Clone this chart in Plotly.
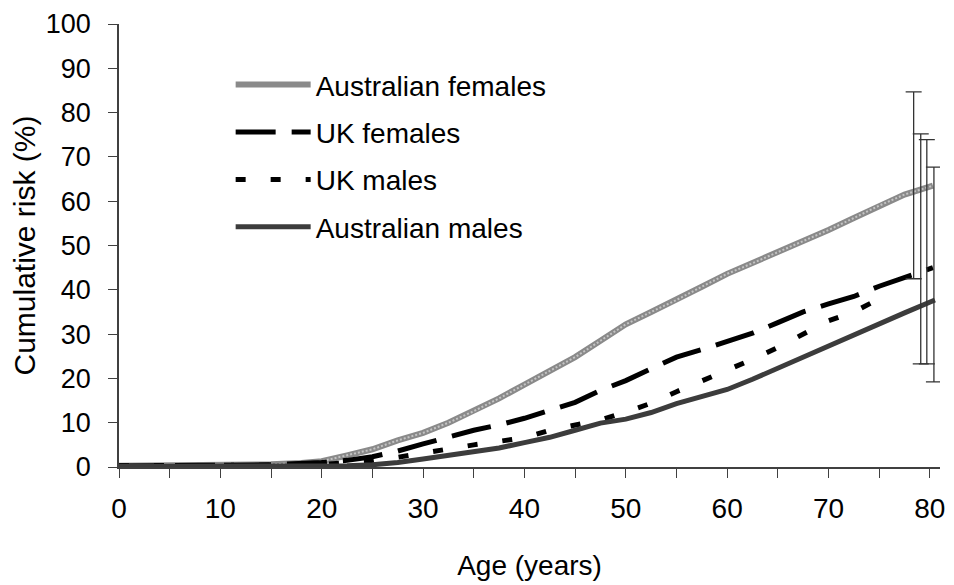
import plotly.graph_objects as go

# ---- data ----
af_age = [0, 5, 10, 15, 18, 20, 22.5, 25, 27.5, 30, 32.5, 35, 37.5, 40, 42.5, 45, 47.5, 50,
          52.5, 55, 57.5, 60, 62.5, 65, 67.5, 70, 72.5, 75, 77.5, 80.3]
af_val = [0.3, 0.3, 0.4, 0.6, 0.9, 1.3, 2.6, 4.0, 6.0, 7.7, 10.0, 12.6, 15.5, 18.6, 21.6, 24.8,
          28.5, 32.2, 35.0, 37.7, 40.7, 43.6, 46.0, 48.5, 51.0, 53.5, 56.2, 59.0, 61.5, 63.5]

ukf_age = [0, 10, 15, 20, 22.5, 25, 27.5, 30, 32.5, 35, 37.5, 40, 42.5, 45, 47.5, 50, 52.5, 55,
           57.5, 60, 62.5, 65, 67.5, 70, 72.5, 75, 77.5, 80.3]
ukf_val = [0.2, 0.3, 0.5, 1.0, 1.5, 2.3, 3.6, 5.2, 6.8, 8.3, 9.5, 11.0, 12.8, 14.6, 17.3, 19.5,
           22.2, 24.8, 26.5, 28.5, 30.2, 32.6, 35.0, 36.8, 38.5, 40.8, 42.8, 45.0]

ukm_age = [0, 10, 15, 20, 22.5, 25, 27.5, 30, 32.5, 35, 37.5, 40, 42.5, 45, 47.5, 50, 52.5, 55,
           57.5, 60, 62.5, 65, 67.5, 70, 72.5, 75.7]
ukm_val = [0.3, 0.3, 0.4, 0.6, 0.9, 1.3, 2.2, 3.2, 4.0, 5.0, 5.8, 6.6, 8.3, 9.4, 10.6, 12.4,
           14.4, 17.0, 19.4, 21.7, 24.3, 27.0, 30.0, 33.0, 35.0, 38.8]

am_age = [0, 10, 15, 20, 22.5, 25, 27.5, 30, 32.5, 35, 37.5, 40, 42.5, 45, 47.5, 50, 52.5, 55,
          57.5, 60, 62.5, 65, 67.5, 70, 72.5, 75, 77.5, 80.5]
am_val = [0.1, 0.1, 0.2, 0.3, 0.3, 0.5, 1.0, 1.8, 2.6, 3.4, 4.3, 5.5, 6.7, 8.3, 9.9, 10.8,
          12.3, 14.3, 15.8, 17.5, 19.8, 22.3, 25.0, 27.6, 30.0, 32.5, 34.8, 37.7]

# error bars near age 80 (slightly offset), lower / upper limits
eb_age = [78.4, 79.1, 79.7, 80.4]
eb_low = [42.5, 23.3, 23.3, 19.2]
eb_high = [84.7, 75.2, 73.9, 67.7]

x_ticks = [0, 10, 20, 30, 40, 50, 60, 70, 80]
y_ticks = [0, 10, 20, 30, 40, 50, 60, 70, 80, 90, 100]

FONT = "Liberation Sans, Arial, sans-serif"

fig = go.Figure()
fig.add_trace(go.Scatter(x=af_age, y=af_val, mode="lines", name="Australian females",
                         legendgroup="a", line=dict(color="#8a8a8a", width=6)))
# stipple overlay giving the hatched look of the grey line
fig.add_trace(go.Scatter(x=af_age, y=af_val, mode="lines", showlegend=False,
                         legendgroup="a", hoverinfo="skip",
                         line=dict(color="#c4c4c4", width=2, dash="2px,2px")))
fig.add_trace(go.Scatter(x=ukf_age, y=ukf_val, mode="lines", name="UK females",
                         legendgroup="b", line=dict(color="black", width=5, dash="40px,16px")))
fig.add_trace(go.Scatter(x=ukm_age, y=ukm_val, mode="lines", name="UK males",
                         legendgroup="c", line=dict(color="black", width=5, dash="10px,25px")))
fig.add_trace(go.Scatter(x=am_age, y=am_val, mode="lines", name="Australian males",
                         legendgroup="d", line=dict(color="#3c3c3c", width=5)))

eb_mid = [(l + h) / 2 for l, h in zip(eb_low, eb_high)]
eb_half = [(h - l) / 2 for l, h in zip(eb_low, eb_high)]
fig.add_trace(go.Scatter(x=eb_age, y=eb_mid, mode="markers", showlegend=False,
                         marker=dict(size=1, color="rgba(0,0,0,0)"),
                         error_y=dict(type="data", array=eb_half, visible=True,
                                      color="#333333", thickness=1.3, width=8),
                         hoverinfo="skip"))

# the page body adds an 8px offset, so margins are set smaller on left/top
fig.update_layout(
    width=954, height=585,
    margin=dict(l=111, r=22, t=16, b=126),
    paper_bgcolor="white", plot_bgcolor="white",
    font=dict(family=FONT, size=28, color="black"),
    showlegend=True,
    legend=dict(x=0.136, y=0.919, xanchor="left", yanchor="top",
                font=dict(family=FONT, size=28, color="black"),
                bgcolor="rgba(0,0,0,0)", traceorder="grouped", tracegroupgap=8,
                itemwidth=75),
)
fig.update_xaxes(range=[0, 81], tickmode="array", tickvals=x_ticks,
                 ticktext=[str(v) for v in x_ticks], automargin=False,
                 ticklabeloverflow="allow",
                 showgrid=False, zeroline=False, showline=True, linecolor="#404040",
                 linewidth=1.5, ticks="outside", ticklen=9, tickcolor="#404040", tickwidth=1.3,
                 minor=dict(dtick=5, tick0=0, ticks="outside", ticklen=9,
                            tickcolor="#404040", tickwidth=1.3, showgrid=False),
                 tickfont=dict(size=28), ticklabelstandoff=7,
                 title=dict(text="Age (years)", font=dict(size=28), standoff=32))
fig.update_yaxes(range=[0, 100], tickmode="array", tickvals=y_ticks,
                 ticktext=[str(v) for v in y_ticks], automargin=False,
                 ticklabeloverflow="allow",
                 showgrid=False, zeroline=False, showline=True, linecolor="#404040",
                 linewidth=1.5, ticks="outside", ticklen=9, tickcolor="#404040", tickwidth=1.3,
                 tickfont=dict(size=27), ticklabelstandoff=12,
                 title=dict(text="Cumulative risk (%)", font=dict(size=30), standoff=21))

fig.write_html("out.html")
